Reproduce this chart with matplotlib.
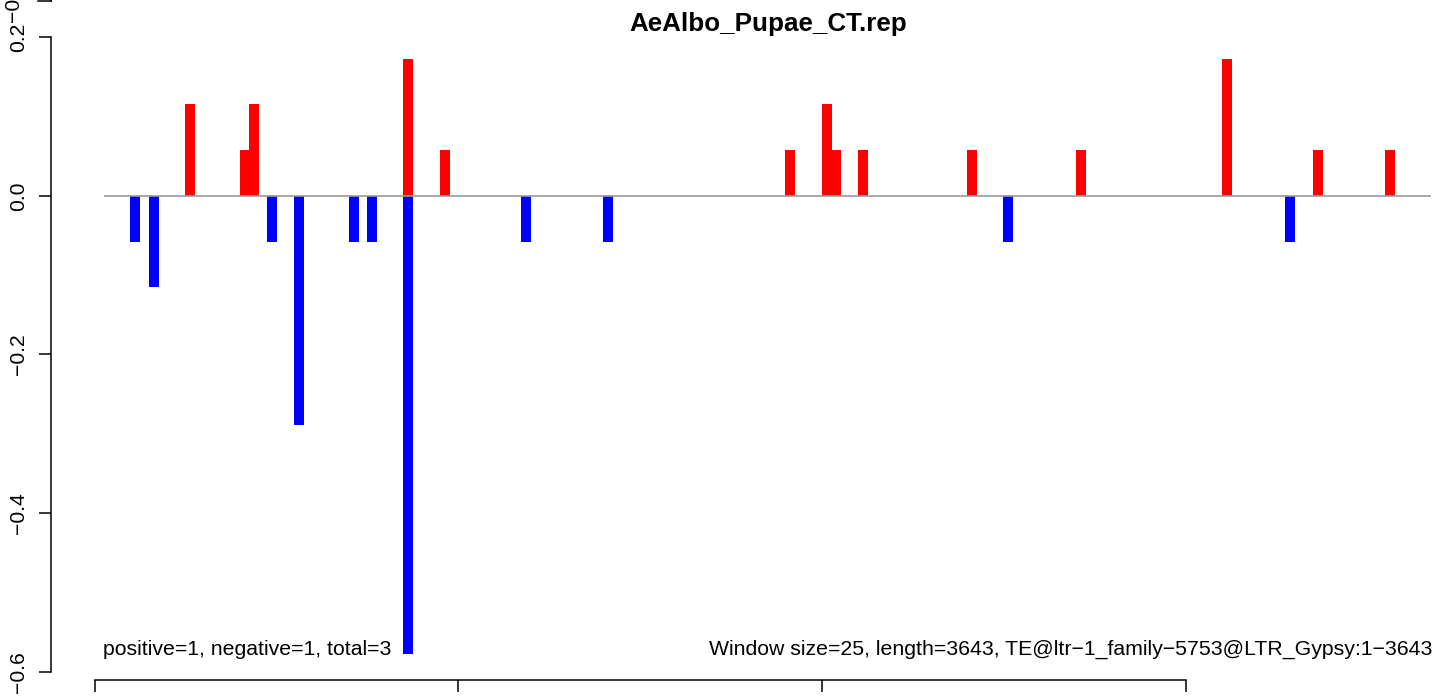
import matplotlib
matplotlib.use("Agg")
import matplotlib.pyplot as plt
from matplotlib.lines import Line2D

# ---- data ----
pos_x = [262.5, 412.5, 437.5, 862.5, 962.5, 1912.5, 2012.5, 2037.5, 2112.5,
         2412.5, 2712.5, 3112.5, 3362.5, 3562.5]
pos_val = [0.1155, 0.0577, 0.1155, 0.1732, 0.0577, 0.0577, 0.1155, 0.0577, 0.0577,
           0.0577, 0.0577, 0.1732, 0.0577, 0.0577]
neg_x = [112.5, 162.5, 487.5, 562.5, 712.5, 762.5, 862.5, 1187.5, 1412.5,
         2512.5, 3287.5]
neg_val = [-0.0577, -0.1155, -0.0577, -0.2887, -0.0577, -0.0577, -0.5774, -0.0577,
           -0.0577, -0.0577, -0.0577]
baseline_range = [25, 3675]
y_ticks = [-0.6, -0.4, -0.2, 0.0, 0.2]
y_ticklabels = ["\u22120.6", "\u22120.4", "\u22120.2", "0.0", "0.2"]
x_ticks = [0, 1000, 2000, 3000]
title = "AeAlbo_Pupae_CT.rep"
left_note = "positive=1, negative=1, total=3"
right_note = "Window size=25, length=3643, TE@ltr\u22121_family\u22125753@LTR_Gypsy:1\u22123643"

plt.rcParams['font.family'] = ['Liberation Sans', 'DejaVu Sans']

W, H = 1444, 698
fig = plt.figure(figsize=(W / 100, H / 100), dpi=100)

# axes box in pixel coordinates (from top-left)
ax_l, ax_r, ax_t, ax_b = 50.9, 1484.7, 35, 680
ax = fig.add_axes([ax_l / W, (H - ax_b) / H, (ax_r - ax_l) / W, (ax_b - ax_t) / H])
ax.set_xlim(-120, 3822)
ax.set_ylim(-0.6105, 0.2029)
ax.patch.set_alpha(0)

ax.bar(pos_x, pos_val, width=27.5, color="#FF0000", linewidth=0, zorder=2)
ax.bar(neg_x, neg_val, width=27.5, color="#0000FF", linewidth=0, zorder=2)
ax.plot(baseline_range, [0, 0], color="#999999", lw=1.2, zorder=3,
        solid_capstyle="butt")

for s in ("top", "right"):
    ax.spines[s].set_visible(False)
lw = 1.1
ax.spines["left"].set_bounds(y_ticks[0], y_ticks[-1])
ax.spines["bottom"].set_bounds(x_ticks[0], x_ticks[-1])
ax.spines["left"].set_linewidth(lw)
ax.spines["bottom"].set_linewidth(lw)

ax.set_yticks(y_ticks)
ax.set_yticklabels(y_ticklabels, rotation=90, va="center", fontsize=15.2)
ax.set_xticks(x_ticks)
ax.set_xticklabels([""] * len(x_ticks))
ax.tick_params(axis="both", length=8.6, width=lw, color="black")
ax.tick_params(axis="y", pad=8)

fig.text(768.5 / W, 1 - 31.5 / H, title, ha="center", va="baseline",
         fontweight="bold", fontsize=18.7)
fig.text(103 / W, 1 - 655 / H, left_note, ha="left", va="baseline", fontsize=15.3)
fig.text(1432 / W, 1 - 655 / H, right_note, ha="right", va="baseline", fontsize=15.3)

# fragment of the panel above (cut by the image edge, as in the reference)
fig.add_artist(Line2D([37.7 / W, 50.5 / W], [1 - 1 / H, 1 - 1 / H],
                      color="black", lw=lw, transform=fig.transFigure))
fig.add_artist(Line2D([50.5 / W, 50.5 / W], [1 - 1 / H, 1.0],
                      color="black", lw=lw, transform=fig.transFigure))
fig.text(13.5 / W, 1 - 1 / H, "\u22120.6", rotation=90, ha="center", va="center",
         fontsize=15.2)

fig.savefig("out.png", dpi=100)
